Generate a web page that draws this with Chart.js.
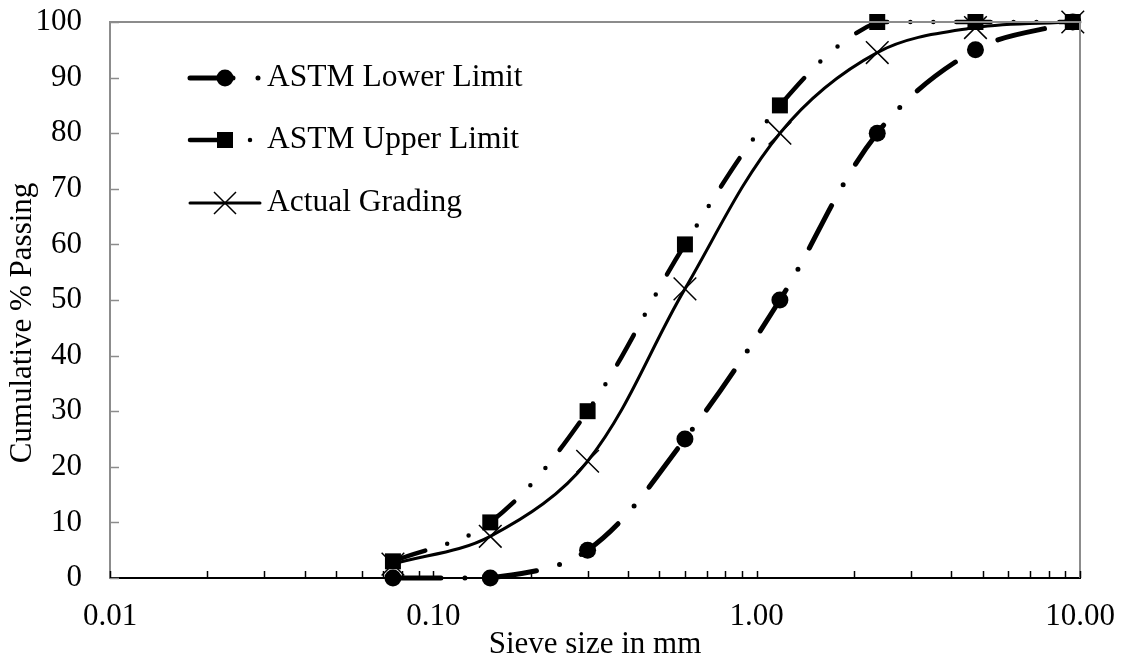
<!DOCTYPE html>
<html>
<head>
<meta charset="utf-8">
<title>Sieve analysis grading curve</title>
<script src="https://cdn.jsdelivr.net/npm/chart.js@4/dist/chart.umd.min.js"></script>
<style>
  html, body { margin: 0; padding: 0; background: #ffffff; }
  #wrap { width: 1128px; height: 662px; }
</style>
</head>
<body>
<div id="wrap"><canvas id="grading" width="1128" height="662"></canvas></div>
<script>
// Sieve sizes (mm) and cumulative percentage passing for each curve
const sieveSizes   = [0.075, 0.15, 0.3, 0.6, 1.18, 2.36, 4.75, 9.5];
const astmLower    = [0, 0, 5, 25, 50, 80, 95, 100];
const astmUpper    = [3, 10, 30, 60, 85, 100, 100, 100];
const actualGrade  = [2.5, 7.5, 21, 52, 80, 94.5, 99, 100];

// Axis ticks
const xMajorTicks  = [0.01, 0.1, 1, 10];
const xMinorSteps  = [2, 3, 4, 5, 6, 7, 8, 9];
const yTicks       = [0, 10, 20, 30, 40, 50, 60, 70, 80, 90, 100];

const seriesNames  = ['ASTM Lower Limit', 'ASTM Upper Limit', 'Actual Grading'];
const xTitle = 'Sieve size in mm';
const yTitle = 'Cumulative % Passing';

const FONT = '"Liberation Serif", "Times New Roman", serif';
const FONT_SIZE = 31;
const LEGEND_FONT_SIZE = 31.5;
const AXIS_GREY = '#8c8c8c';

const toPoints = ys => sieveSizes.map((x, i) => ({ x: x, y: ys[i] }));

const lowerDash = [48, 24, 0, 24];
const upperDash = [34, 23, 0, 23, 0, 23];

// keep label overhang from shrinking the plot area
function clearScalePadding(scale) {
  scale.paddingTop = 0;
  scale.paddingBottom = 0;
  scale.paddingLeft = 0;
  scale.paddingRight = 0;
}

// Frame, inside tick marks, axis titles and the in-plot legend
const decorations = {
  id: 'decorations',
  afterDraw(chart) {
    const ctx = chart.ctx;
    const area = chart.chartArea;
    const xs = chart.scales.x;
    const ys = chart.scales.y;
    ctx.save();

    // grey top and right frame
    ctx.strokeStyle = AXIS_GREY;
    ctx.lineWidth = 2;
    ctx.beginPath();
    ctx.moveTo(area.left, area.top);
    ctx.lineTo(area.right, area.top);
    ctx.lineTo(area.right, area.bottom);
    ctx.stroke();

    // y ticks pointing into the plot
    ctx.lineWidth = 1.5;
    yTicks.forEach(v => {
      const py = Math.round(ys.getPixelForValue(v)) + 0.5;
      ctx.beginPath();
      ctx.moveTo(area.left, py);
      ctx.lineTo(area.left + 9, py);
      ctx.stroke();
    });

    // x major and minor ticks pointing up
    ctx.strokeStyle = '#000';
    ctx.lineWidth = 1.5;
    const xTickVals = [];
    xMajorTicks.forEach((m, i) => {
      xTickVals.push(m);
      if (i < xMajorTicks.length - 1) xMinorSteps.forEach(s => xTickVals.push(m * s));
    });
    xTickVals.forEach(v => {
      const px = Math.round(xs.getPixelForValue(v)) + 0.5;
      ctx.beginPath();
      ctx.moveTo(px, area.bottom);
      ctx.lineTo(px, area.bottom - 7);
      ctx.stroke();
    });

    // axis titles
    ctx.fillStyle = '#000';
    ctx.font = FONT_SIZE + 'px ' + FONT;
    ctx.textAlign = 'center';
    ctx.textBaseline = 'middle';
    ctx.fillText(xTitle, (area.left + area.right) / 2, 645);
    ctx.save();
    ctx.translate(23, 323);
    ctx.rotate(-Math.PI / 2);
    ctx.fillText(yTitle, 0, 0);
    ctx.restore();

    // legend
    const rows = [78, 140, 203];
    const ds = chart.data.datasets;
    ctx.lineCap = 'round';

    // lower limit sample
    ctx.lineWidth = 5;
    ctx.setLineDash([43, 25, 0, 200]);
    ctx.beginPath(); ctx.moveTo(190, rows[0]); ctx.lineTo(262, rows[0]); ctx.stroke();
    ctx.setLineDash([]);
    ctx.beginPath(); ctx.arc(225, rows[0], 8.5, 0, Math.PI * 2); ctx.fill();

    // upper limit sample
    ctx.lineWidth = 4.5;
    ctx.setLineDash([32, 28, 0, 200]);
    ctx.beginPath(); ctx.moveTo(190, rows[1]); ctx.lineTo(262, rows[1]); ctx.stroke();
    ctx.setLineDash([]);
    ctx.fillRect(225 - 8, rows[1] - 8, 16, 16);

    // actual grading sample
    ctx.lineWidth = 3;
    ctx.beginPath(); ctx.moveTo(190, rows[2]); ctx.lineTo(260, rows[2]); ctx.stroke();
    ctx.lineWidth = 1.5;
    ctx.lineCap = 'butt';
    ctx.beginPath();
    ctx.moveTo(214, rows[2] - 11); ctx.lineTo(236, rows[2] + 11);
    ctx.moveTo(214, rows[2] + 11); ctx.lineTo(236, rows[2] - 11);
    ctx.stroke();

    ctx.font = LEGEND_FONT_SIZE + 'px ' + FONT;
    ctx.textAlign = 'left';
    ds.forEach((d, i) => ctx.fillText(d.label, 267, rows[i]));
    ctx.restore();
  }
};

new Chart(document.getElementById('grading'), {
  type: 'line',
  data: {
    datasets: [
      {
        label: seriesNames[0],
        data: toPoints(astmLower),
        borderColor: '#000',
        backgroundColor: '#000',
        borderWidth: 5,
        borderDash: lowerDash,
        borderCapStyle: 'round',
        tension: 0.35,
        pointStyle: 'circle',
        pointRadius: 8.5,
        pointBorderWidth: 0,
        pointBackgroundColor: '#000',
        clip: false
      },
      {
        label: seriesNames[1],
        data: toPoints(astmUpper),
        borderColor: '#000',
        backgroundColor: '#000',
        borderWidth: 4.5,
        borderDash: upperDash,
        borderCapStyle: 'round',
        tension: 0.35,
        pointStyle: 'rect',
        pointRadius: 11.3,
        pointBorderWidth: 0,
        pointBackgroundColor: '#000',
        clip: false
      },
      {
        label: seriesNames[2],
        data: toPoints(actualGrade),
        borderColor: '#000',
        backgroundColor: '#000',
        borderWidth: 3,
        tension: 0.35,
        pointStyle: 'crossRot',
        pointRadius: 16,
        pointBorderWidth: 1.5,
        pointBorderColor: '#000',
        clip: false
      }
    ]
  },
  plugins: [decorations],
  options: {
    responsive: false,
    animation: false,
    devicePixelRatio: 1,
    layout: { padding: { left: 0, top: 22, right: 48, bottom: 0 } },
    plugins: {
      legend: { display: false },
      tooltip: { enabled: false }
    },
    scales: {
      x: {
        type: 'logarithmic',
        min: 0.01,
        max: 10,
        afterFit(scale) { scale.height = 84; clearScalePadding(scale); },
        afterBuildTicks(scale) {
          scale.ticks = xMajorTicks.map(v => ({ value: v, major: true }));
        },
        grid: { display: false, drawTicks: false },
        border: { display: true, color: '#000', width: 2 },
        ticks: {
          autoSkip: false,
          maxRotation: 0,
          padding: 20,
          color: '#000',
          font: { family: FONT, size: FONT_SIZE },
          callback: v => Number(v).toFixed(2)
        }
      },
      y: {
        min: 0,
        max: 100,
        afterFit(scale) { scale.width = 110; clearScalePadding(scale); },
        afterBuildTicks(scale) {
          scale.ticks = yTicks.map(v => ({ value: v }));
        },
        grid: { display: false, drawTicks: false },
        border: { display: true, color: AXIS_GREY, width: 2 },
        ticks: {
          padding: 28,
          color: '#000',
          font: { family: FONT, size: FONT_SIZE },
          callback: v => String(v)
        }
      }
    }
  }
});
</script>
</body>
</html>
